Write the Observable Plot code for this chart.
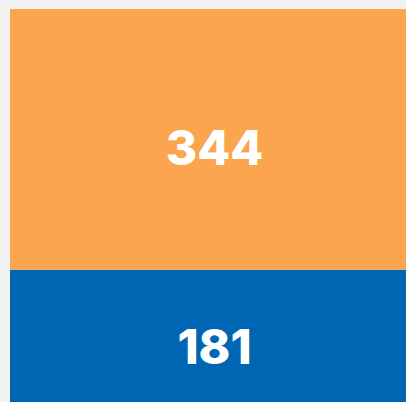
<!DOCTYPE html>
<html>
<head>
<meta charset="utf-8">
<script src="https://cdn.jsdelivr.net/npm/d3@7"></script>
<script src="https://cdn.jsdelivr.net/npm/@observablehq/plot@0.6"></script>
<style>
  html, body { margin: 0; padding: 0; background: #f2f2f2; overflow: hidden; width: 406px; height: 402px; }
  #chart { position: absolute; left: 10px; top: 9px; width: 408px; }
  #chart svg { display: block; background: transparent; max-width: none !important; width: 408px !important; height: 398px !important; }
</style>
</head>
<body>
<div id="chart"></div>
<script>
const categories = ["Group B", "Group A"];
const values = [181, 344];
const column = "All";

const data = categories.map((c, i) => ({category: c, value: values[i], column}));
const total = d3.sum(values);

const chart = Plot.plot({
  width: 408,
  height: 398,
  margin: 0,
  style: {background: "transparent"},
  x: {axis: null, padding: 0},
  y: {axis: null, domain: [0, total]},
  color: {domain: categories, range: ["#0066b3", "#fba54f"]},
  marks: [
    Plot.barY(data, {x: "column", y: "value", fill: "category", inset: 0}),
    Plot.text(data, Plot.stackY({
      x: "column", y: "value", text: d => String(d.value),
      fill: "white", fontSize: 48, fontWeight: 800,
      fontFamily: "Inter, 'Liberation Sans', sans-serif", dy: 10
    }))
  ]
});
document.getElementById("chart").appendChild(chart);
</script>
</body>
</html>
